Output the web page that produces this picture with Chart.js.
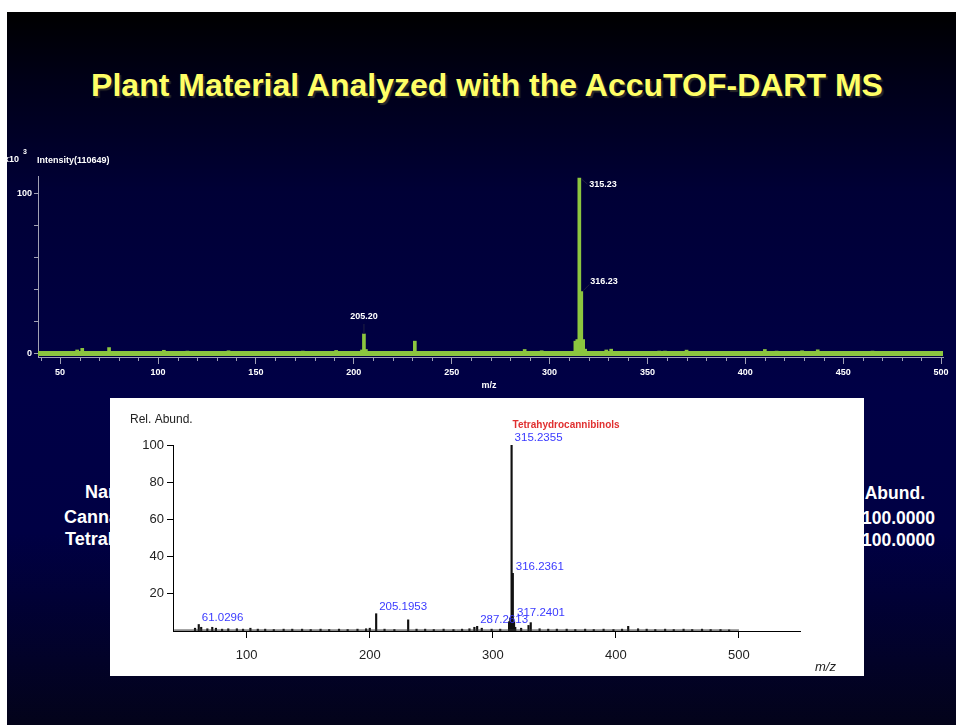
<!DOCTYPE html>
<html>
<head>
<meta charset="utf-8">
<script src="https://cdn.jsdelivr.net/npm/chart.js@4.4.0/dist/chart.umd.min.js"></script>
<style>
  body { margin: 0; width: 956px; height: 725px; background: #fff; position: relative; overflow: hidden;
         font-family: "Liberation Sans", Arial, sans-serif; }
  #slide { position: absolute; left: 7px; top: 12px; width: 949px; height: 713px;
           background: linear-gradient(to bottom, #000000 0px, #000018 70px, #000036 180px, #000046 380px, #000044 520px, #03031a 713px); }
  #title { position: absolute; left: 67px; top: 67px; width: 840px; text-align: center; color: #ffff66;
           font-weight: bold; font-size: 32px; text-shadow: 2px 2px 1px #2a2a2a; white-space: nowrap; }
  .bg { position: absolute; color: #fff; font-weight: bold; font-size: 18px; white-space: nowrap; }
  .bg.r { font-size: 17.5px; }
  #upper { position: absolute; left: 7px; top: 140px; }
  #panel { position: absolute; left: 110px; top: 398px; width: 754px; height: 278px; background: #fff; }
</style>
</head>
<body>
<div id="slide"></div>
<div id="title">Plant Material Analyzed with the AccuTOF-DART MS</div>

<!-- table that sits behind the white panel -->
<div class="bg" style="left:85px; top:482px;">Name</div>
<div class="bg" style="left:64px; top:507px;">Cannabinoids</div>
<div class="bg" style="left:65px; top:529px;">Tetrahydrocannabinols</div>
<div class="bg r" style="right:31px; top:483px;">Rel. Abund.</div>
<div class="bg r" style="right:21px; top:508px;">100.0000</div>
<div class="bg r" style="right:21px; top:530px;">100.0000</div>

<canvas id="upper" width="949" height="260"></canvas>
<div id="panel"><canvas id="lower" width="754" height="278"></canvas></div>

<script>
// ---- upper spectrum (intensity x10^3) ----
var upperMz = [58.7, 61.3, 75.0, 103.0, 115.0, 136.0, 153.0, 174.0, 191.0, 195.0, 204.2, 205.2, 206.2, 221.0, 231.2, 233.0,
  262.0, 287.3, 296.0, 313.2, 314.2, 315.23, 316.23, 317.2, 318.2, 329.0, 331.5, 341.0, 356.0, 359.0, 370.0,
  410.0, 416.0, 429.0, 437.0, 465.0];
var upperIntensity = [2.5, 3.5, 4.0, 2.3, 1.8, 2.0, 1.5, 1.8, 2.2, 1.5, 2.5, 12.5, 2.8, 1.5, 8.0, 1.2,
  1.5, 2.8, 2.0, 8.0, 9.0, 110.0, 39.0, 9.0, 3.0, 2.5, 3.0, 1.5, 1.8, 1.8, 2.4,
  2.8, 1.8, 2.0, 2.6, 1.8];
var upperBand = [1.8, -1.2];           // top / bottom of the noise band
var upperLabels = ['205.20', '315.23', '316.23'];
var upperLabelMz = [205.20, 315.23, 316.23];
var upperLabelInt = [12.5, 110.0, 39.0];
var upperXMajor = [50, 100, 150, 200, 250, 300, 350, 400, 450, 500];
var upperYTicks = [0, 20, 40, 60, 80, 100];
var upperYLabelled = [0, 100];

// ---- lower spectrum (relative abundance) ----
var lowerMz = [58.0, 61.03, 63.0, 68.0, 72.0, 75.0, 80.0, 85.0, 92.0, 97.0, 103.0, 109.0, 115.0, 122.0, 130.0, 137.0,
  145.0, 152.0, 160.0, 167.0, 175.0, 182.0, 190.0, 197.0, 200.0, 205.1953, 212.0, 220.0, 231.2, 238.0, 245.0, 252.0,
  260.0, 268.0, 275.0, 281.0, 285.0, 287.2613, 291.0, 299.0, 306.0, 313.2, 314.2, 315.2355, 316.2361, 317.2401,
  318.2, 323.0, 329.0, 330.8, 338.0, 345.0, 352.0, 360.0, 367.0, 375.0, 382.0, 390.0, 398.0, 405.0, 410.0, 418.0,
  425.0, 432.0, 440.0, 447.0, 455.0, 462.0, 470.0, 477.0, 485.0, 492.0];
var lowerAbund = [1.5, 3.5, 2.0, 1.2, 2.0, 1.5, 1.0, 1.2, 1.2, 1.0, 1.5, 1.0, 1.0, 0.8, 1.0, 1.0,
  1.0, 0.8, 1.0, 0.8, 1.0, 0.8, 1.0, 1.2, 1.5, 9.3, 1.0, 0.8, 6.0, 1.0, 1.0, 0.8,
  1.0, 0.8, 1.0, 1.2, 2.0, 2.5, 1.5, 1.0, 1.0, 5.0, 7.0, 100.0, 31.0, 5.0,
  2.0, 1.5, 3.0, 4.5, 1.2, 1.0, 1.0, 1.0, 0.8, 1.0, 0.8, 1.0, 0.8, 1.0, 2.5, 1.2,
  1.0, 0.8, 1.0, 0.8, 1.0, 0.8, 1.0, 0.8, 0.8, 0.6];
var lowerLabels = ['61.0296', '205.1953', '287.2613', '315.2355', '316.2361', '317.2401'];
var lowerLabelMz = [61.0296, 205.1953, 287.2613, 315.2355, 316.2361, 317.2401];
var lowerLabelAbund = [3.5, 9.3, 2.5, 100.0, 31.0, 6.0];
var compoundName = 'Tetrahydrocannibinols';
var lowerXTicks = [100, 200, 300, 400, 500];
var lowerYTicks = [20, 40, 60, 80, 100];

var green = '#8cc63f';
var axisGray = '#a0a0b4';
var smallBold = 'bold 9px "Liberation Sans", Arial';

function pts(xs, ys) {
  return xs.map(function (x, i) { return { x: x, y: ys[i] }; });
}

// extra drawing for the upper chart: minor ticks, peak labels, titles
var upperDeco = {
  id: 'upperDeco',
  afterDraw: function (chart) {
    var c = chart.ctx, xs = chart.scales.x, ys = chart.scales.y, a = chart.chartArea;
    c.save();
    c.strokeStyle = axisGray;
    c.lineWidth = 1;
    for (var v = 40; v <= 500; v += 10) {
      if (upperXMajor.indexOf(v) >= 0) continue;
      var px = Math.round(xs.getPixelForValue(v)) + 0.5;
      c.beginPath(); c.moveTo(px, a.bottom); c.lineTo(px, a.bottom + 4); c.stroke();
    }
    c.fillStyle = '#fff';
    c.font = smallBold;
    c.textBaseline = 'middle';
    var top = Math.max.apply(null, upperLabelInt);
    upperLabels.forEach(function (t, i) {
      var px = xs.getPixelForValue(upperLabelMz[i]), py = ys.getPixelForValue(upperLabelInt[i]);
      c.strokeStyle = '#202040';
      c.beginPath();
      if (upperLabelInt[i] === top) {
        c.moveTo(px + 2, py + 1); c.lineTo(px + 8, py + 6); c.stroke();
        c.textAlign = 'left'; c.fillText(t, px + 10, py + 7);
      } else if (upperLabelInt[i] > 20) {
        c.moveTo(px + 2, py - 1); c.lineTo(px + 8, py - 7); c.stroke();
        c.textAlign = 'left'; c.fillText(t, px + 9, py - 10);
      } else {
        c.moveTo(px, py); c.lineTo(px, py - 10); c.stroke();
        c.textAlign = 'center'; c.fillText(t, px, py - 17);
      }
    });
    c.textAlign = 'left';
    c.fillText('Intensity(110649)', 30, 21);
    c.fillText('x10', -3, 20);
    c.font = 'bold 7px "Liberation Sans", Arial';
    c.fillText('3', 16, 12);
    c.font = smallBold;
    c.textAlign = 'center';
    c.fillText('m/z', 482, 246);
    c.restore();
  }
};

new Chart(document.getElementById('upper'), {
  type: 'bar',
  data: {
    datasets: [{
      type: 'line',
      data: [{ x: 38.7, y: upperBand[0] }, { x: 501, y: upperBand[0] }],
      borderColor: green, borderWidth: 0, pointRadius: 0,
      backgroundColor: green, fill: { value: upperBand[1] }
    }, {
      data: pts(upperMz, upperIntensity),
      backgroundColor: green, barThickness: 3
    }]
  },
  options: {
    responsive: false,
    animation: false,
    devicePixelRatio: 1,
    layout: { padding: { left: 0, right: 13, top: 36, bottom: 0 } },
    plugins: { legend: { display: false }, tooltip: { enabled: false } },
    scales: {
      x: {
        type: 'linear', min: 38.7, max: 501, offset: false,
        afterBuildTicks: function (s) {
          var t = [];
          for (var v = 40; v <= 500; v += 10) t.push({ value: v });
          s.ticks = t;
        },
        afterFit: function (s) { s.height = 43; },
        border: { display: true, color: axisGray },
        grid: {
          offset: false, drawOnChartArea: false, tickLength: 7,
          tickColor: function (ctx) {
            return ctx.tick && upperXMajor.indexOf(ctx.tick.value) >= 0 ? axisGray : 'rgba(0,0,0,0)';
          }
        },
        ticks: {
          autoSkip: false, maxRotation: 0, padding: 3, color: '#fff',
          font: { size: 9, weight: 'bold', family: '"Liberation Sans", Arial' },
          callback: function (v) { return upperXMajor.indexOf(v) >= 0 ? String(v) : ''; }
        }
      },
      y: {
        min: -1.9, max: 111.25,
        afterBuildTicks: function (s) { s.ticks = upperYTicks.map(function (v) { return { value: v }; }); },
        afterFit: function (s) { s.width = 31; },
        border: { display: true, color: axisGray },
        grid: { drawOnChartArea: false, tickLength: 4, color: axisGray },
        ticks: {
          padding: 2, color: '#fff',
          font: { size: 9, weight: 'bold', family: '"Liberation Sans", Arial' },
          callback: function (v) { return upperYLabelled.indexOf(v) >= 0 ? String(v) : ''; }
        }
      }
    }
  },
  plugins: [upperDeco]
});

// extra drawing for the lower chart: peak labels and axis titles
var lowerDeco = {
  id: 'lowerDeco',
  afterDraw: function (chart) {
    var c = chart.ctx, xs = chart.scales.x, ys = chart.scales.y;
    c.save();
    c.textBaseline = 'middle';
    c.textAlign = 'left';
    c.font = '11.5px "Liberation Sans", Arial';
    c.fillStyle = '#3a3aff';
    lowerLabels.forEach(function (t, i) {
      var px = xs.getPixelForValue(lowerLabelMz[i]), py = ys.getPixelForValue(lowerLabelAbund[i]);
      c.fillText(t, px + 3, py - 7);
    });
    var bx = xs.getPixelForValue(315.2355), by = ys.getPixelForValue(100);
    c.fillStyle = '#e03030';
    c.font = 'bold 10px "Liberation Sans", Arial';
    c.fillText(compoundName, bx + 1, by - 20);
    c.fillStyle = '#222';
    c.font = '12px "Liberation Sans", Arial';
    c.fillText('Rel. Abund.', 20, 22);
    c.font = 'italic 13px "Liberation Sans", Arial';
    c.fillText('m/z', 705, 269);
    c.restore();
  }
};

new Chart(document.getElementById('lower'), {
  type: 'bar',
  data: {
    datasets: [{
      type: 'line',
      data: [{ x: 41, y: 0.5 }, { x: 500, y: 0.5 }],
      borderColor: '#333', borderWidth: 1, pointRadius: 0, fill: false
    }, {
      data: pts(lowerMz, lowerAbund),
      backgroundColor: '#111', barThickness: 1.5
    }]
  },
  options: {
    responsive: false,
    animation: false,
    devicePixelRatio: 1,
    layout: { padding: { left: 0, right: 64, top: 47, bottom: 0 } },
    plugins: { legend: { display: false }, tooltip: { enabled: false } },
    scales: {
      x: {
        type: 'linear', min: 40.1, max: 549.6, offset: false,
        afterBuildTicks: function (s) { s.ticks = lowerXTicks.map(function (v) { return { value: v }; }); },
        afterFit: function (s) { s.height = 45; },
        border: { display: true, color: '#000' },
        grid: { offset: false, drawOnChartArea: false, tickLength: 7, color: '#000' },
        ticks: { autoSkip: false, maxRotation: 0, padding: 10, color: '#222',
                 font: { size: 13, family: '"Liberation Sans", Arial' } }
      },
      y: {
        min: 0, max: 100,
        afterBuildTicks: function (s) { s.ticks = lowerYTicks.map(function (v) { return { value: v }; }); },
        afterFit: function (s) { s.width = 63; },
        border: { display: true, color: '#000' },
        grid: { drawOnChartArea: false, tickLength: 6, color: '#000' },
        ticks: { padding: 3, color: '#222', font: { size: 13, family: '"Liberation Sans", Arial' } }
      }
    }
  },
  plugins: [lowerDeco]
});
</script>
</body>
</html>
